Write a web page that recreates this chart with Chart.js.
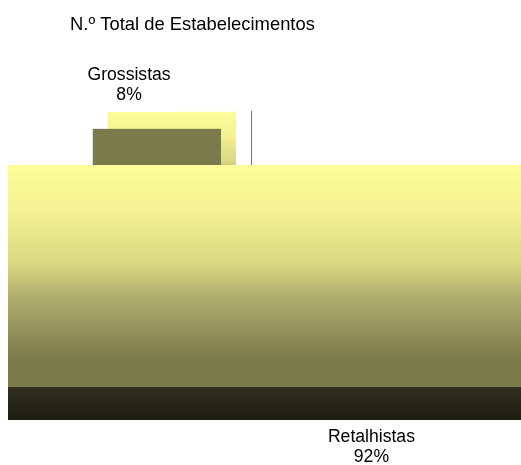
<!DOCTYPE html>
<html>
<head>
<meta charset="utf-8">
<script src="https://cdn.jsdelivr.net/npm/chart.js@4/dist/chart.umd.min.js"></script>
<style>
  body { margin: 0; background: #fff; }
  canvas { display: block; }
</style>
</head>
<body>
<canvas id="chart" width="521" height="465"></canvas>
<script>
const chartTitle = "N.º Total de Estabelecimentos";
const categories = ["Grossistas", "Retalhistas"];
const shares = [8, 92];

const FONT = "17.6px 'Liberation Sans', Arial, sans-serif";
const TITLE_FONT = "18.4px 'Liberation Sans', Arial, sans-serif";
const DEPTH = 33;   // height of the pie's side wall
const LIFT = 9;     // exploded slices sit a bit higher

// top face shading, light yellow fading to olive
const faceStops = [[0, "#fdfd9a"], [0.2, "#f4f292"], [0.45, "#d9d781"], [0.6, "#aeac6d"], [0.88, "#7b7a4a"], [1, "#7b7a4a"]];

const vGrad = (ctx, y0, y1, stops) => {
    let g = ctx.createLinearGradient(0, y0, 0, y1);
    stops.forEach((s) => g.addColorStop(s[0], s[1]));
    return g;
};

// slice geometry on a tilted pie: the chart area is the projected top face
const sliceBox = (arc, R, tilt) => {
    let p = arc.getProps(["x", "y", "startAngle", "endAngle"], true);
    let off = arc.options.offset || 0;
    let mid = (p.startAngle + p.endAngle) / 2;
    let ox = p.x + off * Math.cos(mid);
    let oy = p.y + off * Math.sin(mid) * tilt - (off ? LIFT : 0);
    let box = { x0: ox, x1: ox, y0: oy, y1: oy, ox: ox, oy: oy, mid: mid, off: off };
    for (let k = 0; k <= 720; k++) {
        let a = p.startAngle + (p.endAngle - p.startAngle) * k / 720;
        let x = ox + R * Math.cos(a);
        let y = oy + R * tilt * Math.sin(a);
        box.x0 = Math.min(box.x0, x);
        box.x1 = Math.max(box.x1, x);
        box.y0 = Math.min(box.y0, y);
        box.y1 = Math.max(box.y1, y);
    }
    return box;
};

const blockPie = {
    id: "blockPie",
    beforeDatasetDraw(chart) {
        let ctx = chart.ctx;
        let area = chart.chartArea;
        let R = (area.right - area.left) / 2;
        let tilt = (area.bottom - area.top) / 2 / R;
        let cx = (area.left + area.right) / 2;
        let meta = chart.getDatasetMeta(0);
        let boxes = meta.data.map((arc) => sliceBox(arc, R, tilt));
        let total = shares.reduce((a, b) => a + b, 0);

        ctx.save();
        // exploded slices go behind the rest
        let order = boxes.map((b, i) => i).sort((a, b) => boxes[b].off - boxes[a].off);
        order.forEach((i) => {
            let b = boxes[i];
            let w = b.x1 - b.x0, h = b.y1 - b.y0;
            ctx.fillStyle = vGrad(ctx, b.y0, b.y1, faceStops);
            ctx.fillRect(b.x0, b.y0, w, h);
            if (b.off) {
                ctx.fillStyle = "#7b7a4a";
                ctx.fillRect(b.x0 - 15, b.y0 + 17, w, h);
                // gap line between the pulled-out slice and the pie
                let gx = Math.round((b.x1 + cx) / 2) + 1.5;
                ctx.strokeStyle = "#7b7a4a";
                ctx.lineWidth = 1;
                ctx.beginPath();
                ctx.moveTo(gx, b.y0 - 1);
                ctx.lineTo(gx, area.top);
                ctx.stroke();
            } else {
                ctx.fillStyle = vGrad(ctx, b.y1, b.y1 + DEPTH, [[0, "#302f1f"], [1, "#1d1d12"]]);
                ctx.fillRect(b.x0, b.y1, w, DEPTH);
            }
        });

        // labels outside the slices
        ctx.font = FONT;
        ctx.textAlign = "center";
        ctx.textBaseline = "middle";
        boxes.forEach((b, i) => {
            let lx = b.ox + R * 1.55 * Math.cos(b.mid);
            let ly = b.oy + R * tilt * 1.29 * Math.sin(b.mid) + (Math.sin(b.mid) > 0 ? DEPTH : 0);
            let lines = [categories[i], Math.round(shares[i] / total * 100) + "%"];
            let tw = Math.max(...lines.map((t) => ctx.measureText(t).width)) + 8;
            ctx.fillStyle = "#fff";
            ctx.fillRect(Math.round(lx - tw / 2), Math.round(ly - 27), Math.round(tw), 54);
            ctx.fillStyle = "#000";
            ctx.fillText(lines[0], lx, ly - 9.75);
            ctx.fillText(lines[1], lx, ly + 9.75);
        });

        ctx.font = TITLE_FONT;
        ctx.textAlign = "left";
        ctx.textBaseline = "alphabetic";
        ctx.fillText(chartTitle, 70, 30);
        ctx.restore();
        return false;
    }
};

new Chart(document.getElementById("chart"), {
    type: "pie",
    data: {
        labels: categories,
        datasets: [{
            data: shares,
            offset: [106, 0],
            borderWidth: 0
        }]
    },
    options: {
        responsive: false,
        animation: false,
        events: [],
        rotation: -30,
        layout: { padding: { left: 8, right: 0, top: 165, bottom: 78 } },
        plugins: {
            legend: { display: false },
            tooltip: { enabled: false },
            title: { display: false }
        }
    },
    plugins: [blockPie]
});
</script>
</body>
</html>
